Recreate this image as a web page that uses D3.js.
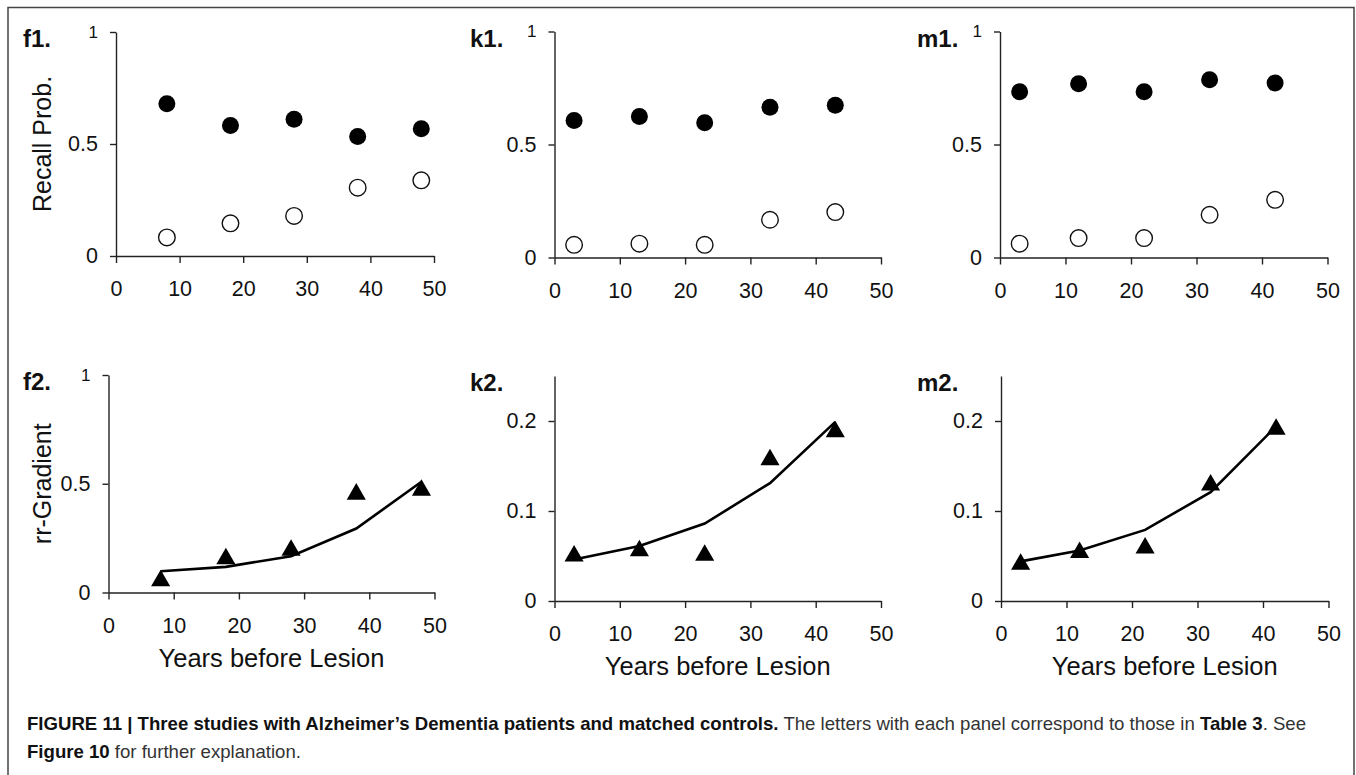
<!DOCTYPE html>
<html lang="en">

<head>
    <meta charset="UTF-8">
    <title>Figure 11 - Alzheimer's Dementia recall gradients</title>
    <script src="https://cdn.jsdelivr.net/npm/d3@7"></script>
    <style>
        body { margin: 0; background: #fff; }
        svg { display: block; }
    </style>
</head>

<body>

    <div id="figure"></div>

    <script>
        // ---- data ----
        const xTicks = [0, 10, 20, 30, 40, 50];
        const recallTicks = [0, 0.5, 1];
        const gradTicksF = [0, 0.5, 1];
        const gradTicksKM = [0, 0.1, 0.2];

        // study f
        const fYears = [8, 18, 28, 38, 48];
        const fControls = [0.68, 0.583, 0.61, 0.533, 0.568];
        const fPatients = [0.083, 0.146, 0.179, 0.305, 0.338];
        const fGradient = [0.067, 0.168, 0.207, 0.465, 0.483];
        const fModel = [0.098, 0.118, 0.167, 0.294, 0.509];

        // study k
        const kYears = [3, 13, 23, 33, 43];
        const kControls = [0.606, 0.624, 0.596, 0.665, 0.674];
        const kPatients = [0.056, 0.061, 0.056, 0.167, 0.201];
        const kGradient = [0.053, 0.059, 0.054, 0.16, 0.191];
        const kModel = [0.046, 0.061, 0.086, 0.131, 0.199];

        // study m
        const mYears = [3, 12, 22, 32, 42];
        const mControls = [0.733, 0.769, 0.733, 0.786, 0.772];
        const mPatients = [0.061, 0.086, 0.086, 0.189, 0.255];
        const mGradient = [0.044, 0.057, 0.062, 0.132, 0.194];
        const mModel = [0.044, 0.056, 0.079, 0.121, 0.194];

        const W = 1356, H = 775;
        const font = "'Liberation Sans', Arial, Helvetica, sans-serif";

        const svg = d3.select("#figure")
            .append("svg")
            .attr("width", W)
            .attr("height", H);

        // open-bottom frame round the figure
        svg.append("path")
            .attr("d", `M8,${H} V7.5 H1354 V${H}`)
            .attr("fill", "none")
            .attr("stroke", "#444")
            .attr("stroke-width", 1.5);

        // triangle marker centred on its bounding box
        const triangle = {
            draw(ctx, size) {
                const s = Math.sqrt(size * 4 / Math.sqrt(3));
                const h = s * Math.sqrt(3) / 2;
                ctx.moveTo(0, -h / 2);
                ctx.lineTo(s / 2, h / 2);
                ctx.lineTo(-s / 2, h / 2);
                ctx.closePath();
            }
        };

        function drawAxes(g, x, y, yTicks, yTitle, xTitle) {
            const xAxis = g.append("g")
                .attr("transform", `translate(0,${y.range()[0]})`)
                .call(d3.axisBottom(x).tickValues(xTicks).tickSize(7).tickPadding(18).tickSizeOuter(0));

            const yAxis = g.append("g")
                .attr("transform", `translate(${x.range()[0]},0)`)
                .call(d3.axisLeft(y).tickValues(yTicks).tickSize(6).tickPadding(12).tickSizeOuter(0)
                    .tickFormat(d => String(d)));

            [xAxis, yAxis].forEach(a => {
                a.attr("font-family", font).attr("font-size", 21.5);
                a.selectAll("path, line").attr("stroke", "#222").attr("stroke-width", 1.4);
                a.selectAll("text").attr("fill", "#111");
            });
            // the top "1" is set smaller in the original
            yAxis.selectAll(".tick text").filter(d => d === 1).attr("font-size", 17);

            if (yTitle) {
                const cy = (y.range()[0] + y.range()[1]) / 2;
                g.append("text")
                    .attr("transform", `translate(51,${cy}) rotate(-90)`)
                    .attr("text-anchor", "middle")
                    .attr("font-family", font)
                    .attr("font-size", 25)
                    .attr("fill", "#111")
                    .text(yTitle);
            }
            if (xTitle) {
                const cx = (x.range()[0] + x.range()[1]) / 2;
                g.append("text")
                    .attr("x", cx)
                    .attr("y", y.range()[0] + 74)
                    .attr("text-anchor", "middle")
                    .attr("font-family", font)
                    .attr("font-size", 25.5)
                    .attr("fill", "#111")
                    .text(xTitle);
            }
        }

        function panelLabel(text, x, y) {
            svg.append("text")
                .attr("x", x)
                .attr("y", y)
                .attr("font-family", font)
                .attr("font-weight", "bold")
                .attr("font-size", 24)
                .attr("fill", "#111")
                .text(text);
        }

        // top row: recall probability, controls (filled) and patients (open)
        function recallPanel(label, labelX, xRange, yRange, years, controls, patients, yTitle) {
            const g = svg.append("g");
            const x = d3.scaleLinear().domain([0, 50]).range(xRange);
            const y = d3.scaleLinear().domain([0, 1]).range(yRange);

            drawAxes(g, x, y, recallTicks, yTitle, null);
            panelLabel(label, labelX, 47);

            g.selectAll(".ctl")
                .data(years.map((d, i) => [d, controls[i]]))
                .enter()
                .append("circle")
                .attr("cx", d => x(d[0]))
                .attr("cy", d => y(d[1]))
                .attr("r", 8.5)
                .attr("fill", "#000");

            g.selectAll(".pat")
                .data(years.map((d, i) => [d, patients[i]]))
                .enter()
                .append("circle")
                .attr("cx", d => x(d[0]))
                .attr("cy", d => y(d[1]))
                .attr("r", 8.3)
                .attr("fill", "#fff")
                .attr("stroke", "#111")
                .attr("stroke-width", 1.4);
        }

        // bottom row: rr-gradient, observed (triangles) and model (line)
        function gradientPanel(label, labelX, xRange, yRange, yMax, yTicks, years, grad, model, yTitle) {
            const g = svg.append("g");
            const x = d3.scaleLinear().domain([0, 50]).range(xRange);
            const y = d3.scaleLinear().domain([0, yMax]).range(yRange);

            drawAxes(g, x, y, yTicks, yTitle, "Years before Lesion");
            panelLabel(label, labelX, yRange[1] + 15);

            const line = d3.line()
                .x(d => x(d[0]))
                .y(d => y(d[1]));

            g.append("path")
                .datum(years.map((d, i) => [d, model[i]]))
                .attr("fill", "none")
                .attr("stroke", "#000")
                .attr("stroke-width", 2.6)
                .attr("d", line);

            g.selectAll(".tri")
                .data(years.map((d, i) => [d, grad[i]]))
                .enter()
                .append("path")
                .attr("transform", d => `translate(${x(d[0])},${y(d[1])})`)
                .attr("d", d3.symbol().type(triangle).size(158))
                .attr("fill", "#000");
        }

        recallPanel("f1.", 23, [116, 434], [256, 32], fYears, fControls, fPatients, "Recall Prob.");
        recallPanel("k1.", 470, [554.5, 881], [257.5, 31.5], kYears, kControls, kPatients, null);
        recallPanel("m1.", 917, [1000, 1327.5], [257.5, 31.5], mYears, mControls, mPatients, null);

        gradientPanel("f2.", 23, [108.5, 434.5], [592.5, 375], 1, gradTicksF, fYears, fGradient, fModel, "rr-Gradient");
        gradientPanel("k2.", 470, [554.5, 881], [601, 376], 0.25, gradTicksKM, kYears, kGradient, kModel, null);
        gradientPanel("m2.", 917, [1001, 1328.5], [601, 376], 0.25, gradTicksKM, mYears, mGradient, mModel, null);

        // caption
        const cap = svg.append("g")
            .attr("font-family", font)
            .attr("font-size", 18.6);

        const line1 = cap.append("text").attr("x", 27).attr("y", 730);
        line1.append("tspan").attr("font-weight", "bold").attr("fill", "#111")
            .text("FIGURE 11 | Three studies with Alzheimer\u2019s Dementia patients and matched controls.");
        line1.append("tspan").attr("fill", "#333")
            .text(" The letters with each panel correspond to those in ");
        line1.append("tspan").attr("font-weight", "bold").attr("fill", "#111").text("Table 3");
        line1.append("tspan").attr("fill", "#333").text(". See");

        const line2 = cap.append("text").attr("x", 27).attr("y", 758);
        line2.append("tspan").attr("font-weight", "bold").attr("fill", "#111").text("Figure 10");
        line2.append("tspan").attr("fill", "#333").text(" for further explanation.");
    </script>

</body>

</html>
